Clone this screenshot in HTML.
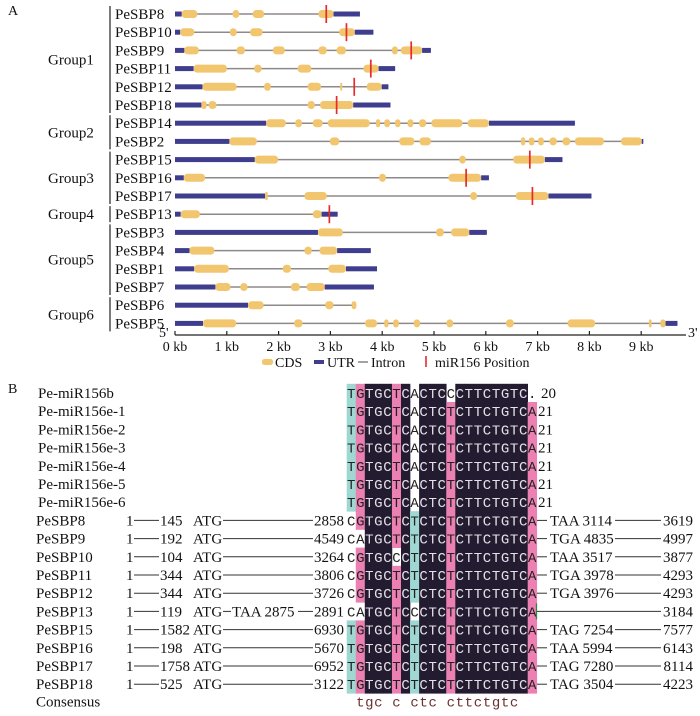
<!DOCTYPE html>
<html>
<head>
<meta charset="utf-8">
<style>
  html,body{margin:0;padding:0;background:#fff;}
  svg{display:block;}
  text{font-family:"Liberation Serif",serif;fill:#111;}
  .mono{font-family:"Liberation Mono",monospace;}
</style>
</head>
<body>
<svg id="fig" width="700" height="716" viewBox="0 0 700 716" xmlns="http://www.w3.org/2000/svg">
  <text x="8" y="15" font-size="14">A</text>
  <text x="8" y="393" font-size="14">B</text>
  <g id="groups"></g>
  <g id="genes"></g>
  <g id="axis"></g>
  <g id="legend">
    <rect x="262" y="359" width="11" height="6" rx="2.5" fill="#f2c66e"/>
    <text x="275" y="367" font-size="14">CDS</text>
    <rect x="314" y="360" width="10" height="4" fill="#3f3d8e"/>
    <text x="327" y="367" font-size="14">UTR</text>
    <line x1="358" y1="362" x2="368" y2="362" stroke="#666" stroke-width="1.2"/>
    <text x="371" y="367" font-size="14">Intron</text>
    <line x1="426" y1="356" x2="426" y2="367" stroke="#e52b2b" stroke-width="1.6"/>
    <text x="435" y="367" font-size="14">miR156 Position</text>
  </g>
  <g id="align"></g>
</svg>
<script>
// ---------- Panel A data ----------
const geneNames = ['PeSBP8','PeSBP10','PeSBP9','PeSBP11','PeSBP12','PeSBP18','PeSBP14','PeSBP2','PeSBP15','PeSBP16','PeSBP17','PeSBP13','PeSBP3','PeSBP4','PeSBP1','PeSBP7','PeSBP6','PeSBP5'];
const geneLength = [3.57,3.83,4.94,4.25,4.12,4.16,7.72,9.04,7.48,6.06,8.04,3.14,6.02,3.78,3.9,3.84,3.5,9.7];
const utrSpans = [
  [[0,0.13],[3.06,3.57]],
  [[0,0.1],[3.47,3.83]],
  [[0,0.18],[4.77,4.94]],
  [[0,0.36],[3.93,4.25]],
  [[0,0.53],[3.99,4.12]],
  [[0,0.51],[3.44,4.16]],
  [[0,1.76],[6.06,7.72]],
  [[0,1.05],[9.01,9.04]],
  [[0,1.54],[7.14,7.48]],
  [[0,0.17],[5.91,6.06]],
  [[0,1.74],[7.21,8.04]],
  [[0,0.11],[2.83,3.14]],
  [[0,2.76],[5.68,6.02]],
  [[0,0.28],[3.13,3.78]],
  [[0,0.37],[3.3,3.9]],
  [[0,0.78],[2.89,3.84]],
  [[0,1.41]],
  [[0,0.54],[9.47,9.7]]
];
const cdsSpans = [
  [[0.13,0.43],[1.11,1.24],[1.5,1.72],[2.77,3.06]],
  [[0.1,0.37],[1.06,1.19],[1.45,1.69],[3.17,3.47]],
  [[0.18,0.46],[1.19,1.35],[1.89,2.12],[2.77,2.93],[3.12,3.3],[4.19,4.3],[4.36,4.77]],
  [[0.36,1.0],[1.53,1.67],[2.37,2.63],[3.64,3.93]],
  [[0.53,1.19],[1.72,1.85],[2.56,2.82],[3.19,3.22],[3.7,3.99]],
  [[0.51,0.61],[0.65,0.8],[2.56,2.7],[2.8,3.44]],
  [[1.76,2.14],[2.32,2.45],[2.66,2.85],[2.95,3.76],[3.88,3.96],[4.04,4.15],[4.25,4.35],[4.49,4.6],[4.71,4.85],[4.95,5.55],[5.65,6.06]],
  [[1.05,1.58],[2.99,3.17],[4.33,4.62],[4.72,4.94],[6.68,6.76],[6.83,6.94],[7.01,7.12],[7.23,7.37],[7.48,7.63],[7.72,8.28],[8.61,9.01]],
  [[1.54,1.99],[5.49,5.61],[6.53,7.14]],
  [[0.17,0.58],[3.94,4.07],[5.28,5.91]],
  [[1.74,1.79],[2.5,2.93],[5.7,5.83],[6.58,7.21]],
  [[0.11,0.48],[2.66,2.83]],
  [[2.76,3.24],[5.04,5.19],[5.33,5.68]],
  [[0.28,0.76],[2.5,2.64],[2.79,3.13]],
  [[0.37,1.04],[2.08,2.24],[2.96,3.3]],
  [[0.78,1.07],[1.26,1.4],[2.24,2.41],[2.54,2.89]],
  [[1.41,1.71],[2.9,3.06],[3.41,3.5]],
  [[0.54,1.18],[2.3,2.46],[3.67,3.9],[4.04,4.12],[4.21,4.32],[4.61,4.73],[5.24,5.37],[6.39,6.54],[7.58,8.11],[9.15,9.2],[9.37,9.47]]
];
const mirPos = [2.92,3.31,4.56,3.78,3.46,3.12,null,null,6.85,5.62,6.9,2.98,null,null,null,null,null,null];
const groupNames = ['Group1','Group2','Group3','Group4','Group5','Group6'];
const groupFirst = [0,6,8,11,12,16];
const groupLast = [5,7,10,11,15,17];
const tickValues = [0,1,2,3,4,5,6,7,8,9];
const tickLabels = ['0 kb','1 kb','2 kb','3 kb','4 kb','5 kb','6 kb','7 kb','8 kb','9 kb'];

// ---------- Panel B data ----------
const alignNames = ['Pe-miR156b','Pe-miR156e-1','Pe-miR156e-2','Pe-miR156e-3','Pe-miR156e-4','Pe-miR156e-5','Pe-miR156e-6','PeSBP8','PeSBP9','PeSBP10','PeSBP11','PeSBP12','PeSBP13','PeSBP15','PeSBP16','PeSBP17','PeSBP18'];
const alignSeqs = ['TGTGCTCACTCCCTTCTGTC.','TGTGCTCACTCTCTTCTGTCA','TGTGCTCACTCTCTTCTGTCA','TGTGCTCACTCTCTTCTGTCA','TGTGCTCACTCTCTTCTGTCA','TGTGCTCACTCTCTTCTGTCA','TGTGCTCACTCTCTTCTGTCA',
  'CGTGCTCTCTCTCTTCTGTCA','CATGCTCTCTCTCTTCTGTCA','CGTGCCCTCTCTCTTCTGTCA','CGTGCTCTCTCTCTTCTGTCA','CGTGCTCTCTCTCTTCTGTCA','CATGCTCCCTCTCTTCTGTCA','TGTGCTCTCTCTCTTCTGTCA','TGTGCTCTCTCTCTTCTGTCA','TGTGCTCTCTCTCTTCTGTCA','TGTGCTCTCTCTCTTCTGTCA'];
const mirLengths = ['20','21','21','21','21','21','21'];
const utr5Len = ['145','192','104','344','344','119','1582','198','1758','525'];
const siteStart = ['2858','4549','3264','3806','3726','2891','6930','5670','6952','3122'];
const stopCodon = ['TAA 3114','TGA 4835','TAA 3517','TGA 3978','TGA 3976','','TAG 7254','TAA 5994','TAG 7280','TAG 3504'];
const geneEnd = ['3619','4997','3877','4293','4293','3184','7577','6143','8114','4223'];
const consensus = ' tgc c ctc cttctgtc ';

const NS = 'http://www.w3.org/2000/svg';
function mk(tag, attrs, parent){const e=document.createElementNS(NS,tag);for(const k in attrs)e.setAttribute(k,attrs[k]);parent.appendChild(e);return e;}

// axis functions
const X0 = 175, PXKB = 51.8;
function xScale(kb){return X0 + kb*PXKB;}
function rowY(i){return 14 + i*18.2;}

const gGenes = document.getElementById('genes');
geneNames.forEach((name,i)=>{
  const y = rowY(i);
  const g = mk('g',{},gGenes);
  
  
  const t = mk('text',{x:115,y:y+5,'font-size':15},g);
  t.textContent = name;
  
  
  const ln = mk('line',{x1:xScale(0),y1:y,x2:xScale(geneLength[i]),y2:y,stroke:'#8f8a8a','stroke-width':1.5},g);
  
  
  utrSpans[i].forEach(s=>{
    const r = mk('rect',{x:xScale(s[0]),y:y-2.5,width:xScale(s[1])-xScale(s[0]),height:5,fill:'#3f3d8e'},g);
    
    
  });
  cdsSpans[i].forEach(s=>{
    const w = Math.max(2,xScale(s[1])-xScale(s[0]));
    const r = mk('rect',{x:xScale(s[0]),y:y-4,width:w,height:8,rx:Math.min(3.5,w/2),fill:'#f2c66e'},g);
    
    
  });
  if(mirPos[i]!==null){
    const m = mk('line',{x1:xScale(mirPos[i]),y1:y-9,x2:xScale(mirPos[i]),y2:y+9,stroke:'#e52b2b','stroke-width':1.7},g);
    
    
  }
});

// groups
const gGroups = document.getElementById('groups');
groupNames.forEach((n,k)=>{
  const y1 = rowY(groupFirst[k])-8, y2 = rowY(groupLast[k])+8;
  const l = mk('line',{x1:110,y1:y1,x2:110,y2:y2,stroke:'#222','stroke-width':1.2},gGroups);
  
  
  const t = mk('text',{x:48,y:(y1+y2)/2+5,'font-size':15},gGroups);
  t.textContent = n;
  
  
});

// axis
const gAxis = document.getElementById('axis');
const AY = 335;
mk('line',{x1:xScale(0),y1:AY,x2:686,y2:AY,stroke:'#222','stroke-width':1.3},gAxis);
tickValues.forEach((v,i)=>{
  const tk = mk('line',{x1:xScale(v),y1:AY-4,x2:xScale(v),y2:AY,stroke:'#222','stroke-width':1.2},gAxis);
  
  
  const t = mk('text',{x:xScale(v),y:AY+16,'font-size':14,'text-anchor':'middle'},gAxis);
  t.textContent = tickLabels[i];
  
  
});
const t5 = mk('text',{x:159,y:AY+2,'font-size':14},gAxis); t5.textContent="5'";


const t3 = mk('text',{x:688,y:AY+2,'font-size':14},gAxis); t3.textContent="3'";



// ---------- alignment ----------
const gA = document.getElementById('align');
const CX0 = 346.7, CW = 9.05;
function alY(r){return 393 + r*18.2;}
const blackCols = [2,3,4,6,8,9,10,12,13,14,15,16,17,18,19];
function cellColor(c,ch){
  if(blackCols.indexOf(c)>=0 && !(c===5)) return '#231c30';
  if(c===0) return ch==='T' ? '#9fd8d2' : '#ffffff';
  if(c===1) return ch==='G' ? '#ec80b2' : '#ffffff';
  if(c===5) return ch==='T' ? '#ec80b2' : '#ffffff';
  if(c===7) return ch==='T' ? '#9fd8d2' : '#ffffff';
  if(c===11) return ch==='T' ? '#ec80b2' : '#ffffff';
  if(c===20) return ch==='A' ? '#ec80b2' : '#ffffff';
  return '#ffffff';
}
alignSeqs.forEach((seq,r)=>{
  const y = alY(r);
  const g = mk('g',{},gA);
  
  
  const nm = mk('text',{x: r<7?38:36, y:y+5,'font-size':15},g);
  nm.textContent = alignNames[r];
  
  
  for(let c=0;c<seq.length;c++){
    const ch = seq[c];
    let fill = cellColor(c,ch);
    if(ch==='.') fill='#ffffff';
    if(r===0 && c===11) fill='#ffffff';
    if(fill!=='#ffffff'){
      const rc = mk('rect',{x:CX0+c*CW,y:y-9.2,width:CW+0.3,height:18.6,fill:fill},g);
      
      
    }
    const tx = mk('text',{x:CX0+c*CW+CW/2,y:y+5,'font-size':14,'text-anchor':'middle','class':'mono'},g);
    tx.style.fill = fill==='#231c30' ? '#e6e0ea' : '#222';
    tx.textContent = ch;
  }
  if(r<7){
    const t = mk('text',{x:538,y:y+5,'font-size':15},g);
    t.textContent = (r===0?' ':'') + mirLengths[r];
    if(r===0) t.setAttribute('x',541);
    
    
  } else {
    const k = r-7;
    const tOne = mk('text',{x:126,y:y+5,'font-size':15},g); tOne.textContent='1';
    mk('line',{x1:134,y1:y,x2:159,y2:y,stroke:'#333','stroke-width':1},g);
    const t1 = mk('text',{x:160,y:y+5,'font-size':15},g); t1.textContent=utr5Len[k];
    
    
    const tATG = mk('text',{x:193,y:y+5,'font-size':15},g); tATG.textContent='ATG';
    const t2 = mk('text',{x:344,y:y+5,'font-size':15,'text-anchor':'end'},g); t2.textContent=siteStart[k];
    
    
    if(alignNames[r]==='PeSBP13'){
      mk('line',{x1:223,y1:y,x2:231,y2:y,stroke:'#333','stroke-width':1},g);
      const tt = mk('text',{x:232,y:y+5,'font-size':15},g); tt.textContent='TAA 2875';
      mk('line',{x1:298,y1:y,x2:313,y2:y,stroke:'#333','stroke-width':1},g);
      mk('line',{x1:536.5,y1:y-8,x2:536.5,y2:y+8,stroke:'#2a8a3a','stroke-width':1.2},g);
      mk('line',{x1:537,y1:y,x2:661,y2:y,stroke:'#333','stroke-width':1},g);
    } else {
      mk('line',{x1:223,y1:y,x2:313,y2:y,stroke:'#333','stroke-width':1},g);
      mk('line',{x1:537,y1:y,x2:547,y2:y,stroke:'#333','stroke-width':1},g);
      const ts = mk('text',{x:550,y:y+5,'font-size':15},g); ts.textContent=stopCodon[k];
      
      
      mk('line',{x1:615,y1:y,x2:661,y2:y,stroke:'#333','stroke-width':1},g);
    }
    const te = mk('text',{x:693,y:y+5,'font-size':15,'text-anchor':'end'},g); te.textContent=geneEnd[k];
    
    
  }
});
// consensus
const cy = alY(17)-1;
const cn = mk('text',{x:36,y:cy+5,'font-size':15},gA); cn.textContent='Consensus';


for(let c=0;c<consensus.length;c++){
  if(consensus[c]===' ') continue;
  const t = mk('text',{x:CX0+c*CW+CW/2,y:cy+5,'font-size':14,'text-anchor':'middle','class':'mono'},gA);
  t.style.fill='#6b3030';
  t.textContent = consensus[c];
  
  
}
</script>
</body>
</html>
